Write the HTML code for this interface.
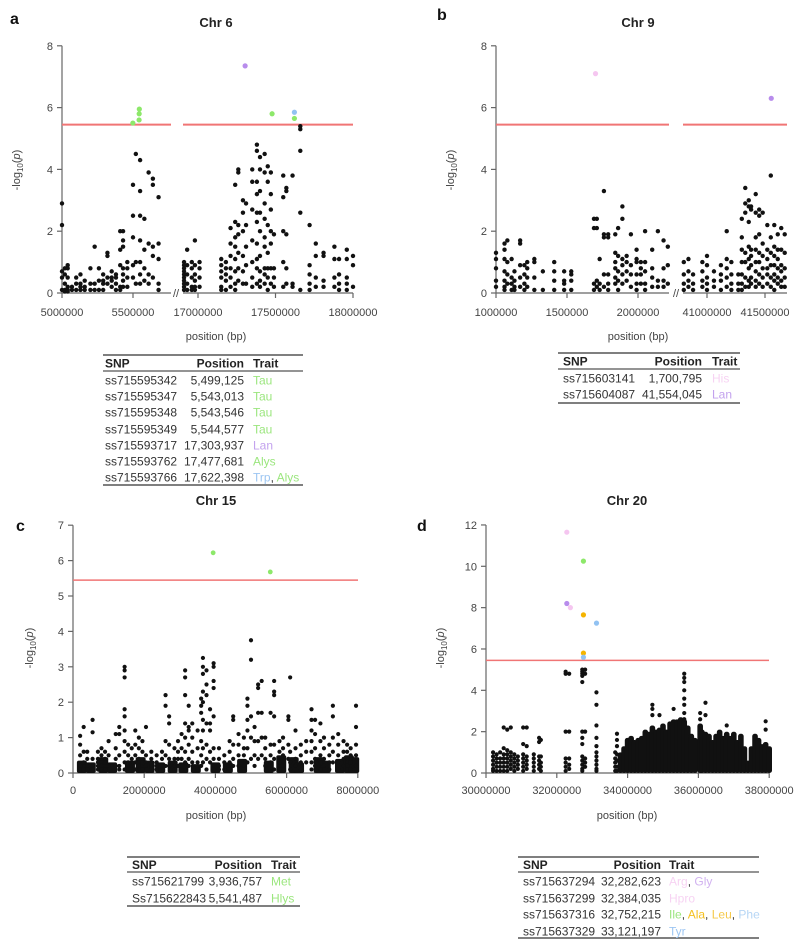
<!DOCTYPE html>
<html><head><meta charset="utf-8">
<style>
html,body{margin:0;padding:0;background:#fff;}
svg{display:block;font-family:"Liberation Sans",Arial,sans-serif;}
.tk{font-size:11px;fill:#444;}
.tt{font-size:13px;font-weight:bold;fill:#222;}
.pl{font-size:16px;font-weight:bold;fill:#111;}
.tb{font-size:12px;fill:#333;}
.tbh{font-size:12px;fill:#222;font-weight:bold;}
</style></head>
<body>
<svg id="fig" width="798" height="943" viewBox="0 0 798 943"></svg>
<script>
const aSeg1Cols = ["5.00:2.9 2.2 0.7 0.5 0.1","5.02:0.8 0.6 0.3 0.1 0.05","5.04:0.9 0.8 0.5 0.2 0.1 0.05","5.07:0.2 0.1","5.10:0.5 0.3 0.1","5.13:0.6 0.3 0.2 0.1","5.16:0.4 0.2 0.1","5.20:0.8 0.3 0.1","5.23:1.5 0.3 0.1","5.26:0.8 0.4 0.1","5.29:0.6 0.4 0.3 0.1","5.32:1.3 1.2 0.5 0.3","5.35:0.7 0.5 0.4 0.2","5.38:0.6 0.5 0.3 0.1","5.41:2.0 1.4 0.9 0.2 0.1","5.43:2.0 1.7 1.5 0.8 0.6 0.4 0.2","5.46:1.0 0.8 0.5 0.2","5.50:3.5 2.5 1.8 0.9 0.5","5.52:4.5 1.0 0.3","5.55:4.3 3.3 2.5 1.7 1.0 0.6 0.3","5.58:2.4 1.4 0.8 0.4","5.61:3.9 1.6 0.6 0.3","5.64:3.7 3.5 1.5 1.2 0.5","5.68:3.1 1.6 1.1 0.3 0.1"];
const aSeg2Cols = ["16.91:1.0 0.9 0.8 0.7 0.6 0.5 0.4 0.3 0.2 0.1","16.93:1.4 0.9 0.6 0.3 0.1","16.96:1.0 0.8 0.5 0.2 0.1","16.98:1.7 0.9 0.6 0.4 0.2 0.1","17.01:1.0 0.8 0.5 0.2","17.15:1.1 0.9 0.7 0.5 0.2 0.1","17.18:1.0 0.8 0.6 0.4 0.1","17.21:2.1 1.6 1.2 0.8 0.5 0.2","17.24:3.5 2.3 1.8 1.5 1.1 0.7 0.3 0.1","17.26:4.0 3.9 2.2 1.9 1.3 0.8 0.4","17.29:3.0 2.6 2.0 1.2 0.7 0.3","17.31:2.9 2.2 1.5 0.9 0.3","17.35:4.0 3.6 2.7 1.7 1.0 0.5 0.2","17.38:4.8 4.6 3.6 3.2 2.6 2.3 1.6 1.1 0.8 0.3","17.40:4.4 4.0 3.3 2.6 2.0 1.2 0.7 0.4 0.2","17.43:4.5 3.9 2.9 2.4 1.8 1.5 0.8 0.6 0.3","17.45:4.1 3.6 2.2 1.3 0.8 0.5 0.1","17.47:3.9 3.2 2.7 2.0 1.6 0.8 0.3","17.49:1.9 0.8 0.5 0.2","17.55:3.8 3.1 2.0 1.0 0.2","17.57:3.4 3.3 1.9 0.8 0.3","17.61:3.8 0.3 0.2","17.66:5.4 5.3 4.6 2.6 0.1","17.72:2.2 0.9 0.6 0.3 0.1","17.76:1.6 1.2 0.5 0.2","17.81:1.3 1.2 0.4 0.2","17.88:1.5 1.1 0.5 0.2","17.91:1.1 0.6 0.3 0.1","17.96:1.4 1.1 0.5 0.3 0.1","18.00:1.2 0.9 0.2"];
const aSigPos = [5.499, 5.543, 5.5435, 5.5446, 17.304, 17.478, 17.622, 17.622];
const aSigVal = [5.5, 5.6, 5.8, 5.95, 7.35, 5.8, 5.85, 5.65];
const aSigCol = ["#8de86a","#8de86a","#8de86a","#8de86a","#b88cec","#8de86a","#92c2f2","#8de86a"];

const bSeg1Cols = ["1.00:1.3 1.1 0.8 0.4 0.2","1.06:1.6 1.4 1.1 0.7 0.4 0.2 0.1","1.08:1.7 1.0 0.6 0.3","1.11:1.1 0.5 0.3 0.1","1.13:0.7 0.4 0.2 0.1","1.17:1.7 1.6 0.9 0.5 0.2","1.20:0.9 0.6 0.3 0.1","1.22:1.0 0.8 0.5 0.2","1.27:1.1 1.0 0.5 0.1","1.33:0.7 0.1","1.41:1.0 0.7 0.4 0.1","1.48:0.7 0.4 0.3 0.1","1.53:0.7 0.6 0.4 0.1","1.69:2.4 2.1 0.3 0.1","1.71:2.4 2.1 0.4 0.2","1.73:1.1 0.3 0.1","1.76:3.3 1.9 1.8 0.6 0.2","1.79:1.9 1.8 0.6 0.3 0.1","1.84:1.9 1.3 1.0 0.8 0.5 0.3","1.86:2.1 1.2 0.7 0.4 0.1","1.89:2.8 2.4 1.1 0.9 0.6 0.3","1.92:1.2 1.0 0.7 0.4","1.95:1.9 0.9 0.6 0.2","1.99:1.4 1.1 1.0 0.6 0.3 0.1","2.02:1.0 0.8 0.6 0.3","2.05:2.0 1.0 0.7 0.3 0.1","2.10:1.4 0.8 0.5 0.2","2.14:2.0 0.4 0.2","2.18:1.7 0.8 0.4 0.2","2.21:1.5 0.9 0.3"];
const bSeg2Cols = ["40.80:1.0 0.6 0.3 0.1","40.84:1.1 0.7 0.4 0.2","40.88:0.6 0.3 0.1","40.96:1.0 0.7 0.4 0.2","41.00:1.2 0.9 0.5 0.3 0.1","41.06:0.7 0.4 0.2","41.12:0.9 0.6 0.4 0.1","41.17:2.0 1.1 0.8 0.5 0.2","41.21:1.0 0.6 0.3 0.1","41.27:0.6 0.3 0.1","41.30:2.4 1.8 1.4 1.0 0.6 0.3 0.1","41.33:3.4 2.9 2.6 1.3 1.0 0.5 0.2","41.36:3.0 2.8 2.3 1.5 1.1 0.8 0.4 0.2","41.38:2.8 2.7 1.4 1.2 0.9 0.5 0.3","41.42:3.2 2.6 1.8 1.4 1.0 0.7 0.4 0.2","41.45:2.7 2.5 1.9 1.3 1.0 0.6 0.3","41.48:2.6 1.6 1.2 0.8 0.5 0.2","41.52:2.2 1.4 1.1 0.8 0.6 0.3","41.55:3.8 1.8 1.3 0.9 0.5 0.2","41.58:2.2 1.5 1.2 0.9 0.6 0.4 0.1","41.61:1.9 1.4 1.1 0.8 0.5 0.3","41.64:2.1 1.4 0.9 0.7 0.4 0.2","41.67:1.9 1.3 0.8 0.5 0.2"];
const bSigPos = [1.7008, 41.554];
const bSigVal = [7.1, 6.3];
const bSigCol = ["#f5c6f0","#b88cec"];

const cCols = ["0.2:1.05 0.8 0.5 0.2 0.1","0.3:1.3 0.6 0.3 0.1","0.4:0.6 0.4 0.2 0.1","0.55:1.5 1.15 0.4 0.2","0.7:0.6 0.4 0.3 0.2 0.1","0.8:0.7 0.5 0.3 0.2 0.1","0.9:0.6 0.4 0.3 0.1","1.0:0.9 0.5 0.2","1.2:1.1 0.7 0.4 0.2","1.3:1.3 1.1 0.5 0.2 0.1","1.45:3.0 2.9 2.7 1.8 1.6 1.2 0.9 0.6 0.3 0.1","1.55:0.8 0.5 0.3 0.1","1.65:0.7 0.4 0.2","1.75:1.2 0.8 0.5 0.3 0.1","1.85:1.0 0.7 0.4 0.2","1.95:0.9 0.6 0.3 0.1","2.05:1.3 0.5 0.3 0.2","2.2:0.6 0.4 0.2 0.1","2.35:0.5 0.3 0.2 0.1","2.5:0.6 0.4 0.2","2.6:2.2 1.9 0.9 0.5 0.2","2.7:1.6 1.4 0.8 0.4 0.2","2.85:0.7 0.4 0.2 0.1","2.95:0.9 0.6 0.4 0.2","3.05:1.1 0.7 0.4 0.1","3.15:2.9 2.7 2.2 1.4 1.0 0.6 0.3","3.25:1.9 1.3 1.2 0.8 0.4 0.2","3.35:1.4 1.0 0.6 0.3","3.5:1.2 0.7 0.3 0.1","3.6:2.1 1.9 1.7 0.9 0.5 0.2","3.65:3.25 3.0 2.8 2.3 2.0 1.5 1.2 0.7 0.3","3.75:2.9 2.5 2.2 1.4 0.8 0.4 0.1","3.85:1.8 1.4 1.2 0.6 0.3","3.95:3.1 3.0 2.6 2.4 1.6 0.7 0.4 0.1","4.1:0.7 0.4 0.2 0.1","4.25:0.5 0.3 0.1","4.4:0.9 0.6 0.3 0.1","4.5:1.6 1.5 0.8 0.4 0.2","4.65:1.1 0.8 0.5 0.2","4.8:1.0 0.7 0.5 0.2","4.9:2.1 1.9 1.5 1.2 0.7 0.3","5.0:3.75 3.2 1.6 1.0 0.4","5.1:1.3 0.9 0.5 0.2","5.2:2.5 2.4 1.7 0.9 0.4","5.3:2.6 1.7 1.0 0.5","5.4:1.0 0.7 0.4 0.2","5.55:1.7 0.8 0.5 0.3","5.65:2.6 2.3 2.2 1.6 0.8 0.4 0.1","5.8:0.9 0.6 0.3 0.1","5.9:1.0 0.7 0.5 0.2","6.05:1.6 1.5 0.8 0.4","6.1:2.7 0.6 0.3 0.1","6.25:1.2 0.7 0.4 0.2","6.4:0.8 0.5 0.3 0.1","6.55:0.9 0.6 0.3","6.7:1.8 1.5 1.2 0.9 0.6 0.3 0.1","6.8:1.5 1.1 0.7 0.4 0.2","6.95:1.4 0.9 0.5 0.3 0.1","7.05:1.0 0.7 0.4 0.2","7.2:0.8 0.5 0.3 0.1","7.3:1.9 1.6 1.0 0.6 0.3","7.45:1.1 0.8 0.5 0.3 0.1","7.6:0.9 0.6 0.4 0.2","7.7:0.8 0.6 0.4 0.3 0.2 0.1","7.8:0.7 0.5 0.4 0.3 0.1","7.95:1.9 1.3 0.8 0.5 0.2"];
const cLowBand = ["0.25:0.35","0.5:0.3","0.85:0.45","1.1:0.3","1.6:0.35","1.9:0.45","2.15:0.35","2.45:0.3","2.8:0.35","3.1:0.3","3.45:0.25","4.0:0.3","4.35:0.3","4.75:0.4","5.5:0.35","5.85:0.5","6.2:0.45","6.35:0.3","6.9:0.45","7.1:0.35","7.5:0.4","7.75:0.5","7.9:0.45"];
const cSigPos = [3.9368, 5.5415];
const cSigVal = [6.22, 5.68];
const cSigCol = ["#8de86a","#8de86a"];

const dCols = ["30.2:1.0 0.8 0.6 0.4 0.2 0.1","30.3:0.9 0.7 0.5 0.3 0.1","30.4:1.0 0.7 0.5 0.3 0.1","30.5:2.2 1.2 0.9 0.7 0.5 0.3 0.1","30.6:2.1 1.1 0.9 0.7 0.5 0.3 0.1","30.7:2.2 1.0 0.8 0.6 0.4 0.2","30.8:0.9 0.7 0.5 0.3 0.1","30.9:0.8 0.6 0.4 0.2","31.05:2.2 1.4 0.9 0.7 0.5 0.3 0.1","31.15:2.2 1.3 0.8 0.6 0.4 0.2","31.35:0.9 0.7 0.5 0.3 0.1","31.5:1.7 1.5 0.8 0.6 0.4 0.2","31.55:1.6 0.8 0.5 0.3 0.1","32.25:4.9 4.8 2.0 0.7 0.5 0.3 0.1","32.35:4.8 2.0 0.7 0.4 0.2","32.72:5.0 4.9 4.8 4.7 4.4 2.0 1.7 1.4 0.8 0.6 0.4 0.2 0.1","32.8:5.0 4.8 2.0 0.7 0.5 0.3","33.12:3.9 3.3 2.3 1.7 1.3 1.0 0.8 0.6 0.4 0.2 0.1","33.65:1.0 0.7 0.5 0.3 0.1","33.7:1.9 1.6 1.3 0.9 0.6 0.3 0.1","34.7:3.3 3.1 2.8","34.9:2.8","35.3:3.1","35.6:4.8 4.6 4.4 4.0 3.6 3.3 2.9 2.6","36.05:2.9 2.6","36.2:3.4 2.8","36.8:2.3","37.9:2.1 2.5"];
const dDenseTop = ["33.8:0.9","33.9:1.2","34.0:1.6","34.1:1.7","34.2:1.5","34.3:1.6","34.4:1.7","34.5:2.0","34.6:1.9","34.7:2.2","34.8:2.0","34.9:2.1","35.0:2.3","35.1:2.0","35.2:2.4","35.3:2.5","35.4:2.5","35.5:2.6","35.6:2.5","35.7:2.2","35.8:1.8","35.9:1.6","36.05:2.3","36.1:2.0","36.2:1.9","36.3:1.8","36.4:1.5","36.5:1.8","36.6:2.0","36.7:1.7","36.8:1.9","36.9:1.7","37.0:1.9","37.1:1.5","37.2:1.8","37.3:1.2","37.4:0.5","37.5:1.2","37.6:1.8","37.7:1.6","37.8:1.3","37.9:1.4","38.0:1.2"];
const dSigPos = [32.2826, 32.2826, 32.384, 32.7522, 32.7522, 32.7522, 32.7522, 33.1212];
const dSigVal = [11.65, 8.2, 8.0, 10.25, 7.65, 5.8, 5.6, 7.25];
const dSigCol = ["#f5c6f0","#b88cec","#f5c6f0","#8de86a","#f5b400","#f5b400","#92c2f2","#92c2f2"];

const NS = "http://www.w3.org/2000/svg";
const svg = document.getElementById("fig");
function mk(tag, attrs, parent){
  const el = document.createElementNS(NS, tag);
  for (const k in attrs) el.setAttribute(k, attrs[k]);
  (parent || svg).appendChild(el);
  return el;
}
function txt(x, y, s, cls, anchor, parent, fill){
  const t = mk("text", {x:x, y:y, class:cls, "text-anchor":anchor||"start"}, parent);
  if (fill) t.setAttribute("fill", fill);
  t.textContent = s;
  return t;
}
function parseCols(arr){
  return arr.map(s => { const p = s.split(":"); return {x:parseFloat(p[0]), ys:p[1].split(" ").map(Number)}; });
}
function drawCols(g, cols, sx, sy, r, name){
  parseCols(cols).forEach(c => c.ys.forEach(v => {
    const d = mk("circle", {cx:sx(c.x), cy:sy(v), r:r, fill:"#111"}, g);
    
    
  }));
}
function drawSig(g, pos, val, col, sx, sy, r){
  pos.forEach((p,i) => {
    const d = mk("circle", {cx:sx(p), cy:sy(val[i]), r:r, fill:col[i]}, g);
    
    
  });
}
function yAxis(g, x, sy, ticks, y0v){
  mk("line", {x1:x, x2:x, y1:sy(ticks[ticks.length-1]), y2:sy(y0v), stroke:"#666", "stroke-width":1.2}, g);
  ticks.forEach(t => {
    mk("line", {x1:x-5, x2:x, y1:sy(t), y2:sy(t), stroke:"#666", "stroke-width":1.2}, g);
    txt(x-9, sy(t)+4, String(t), "tk", "end", g);
  });
}
function yTitle(g, x, y){
  const t = mk("text", {x:0, y:0, class:"tk", "text-anchor":"middle", transform:`translate(${x},${y}) rotate(-90)`}, g);
  
  
  t.innerHTML = '-log<tspan font-size="8" dy="3">10</tspan><tspan dy="-3">(</tspan><tspan font-style="italic">p</tspan>)';
}
function xAxisSeg(g, x1, x2, y){ mk("line", {x1:x1, x2:x2, y1:y, y2:y, stroke:"#666", "stroke-width":1.2}, g); }
function xTick(g, x, y, label, ly){
  mk("line", {x1:x, x2:x, y1:y, y2:y+5, stroke:"#666", "stroke-width":1.2}, g);
  txt(x, ly, label, "tk", "middle", g);
}
function thresh(g, x1, x2, y, w){
  const l = mk("line", {x1:x1, x2:x2, y1:y, y2:y, stroke:"#f07575", "stroke-width":w}, g);
  
  
}
function table(g, x1, x2, lines, header, rows, cx){
  mk("line", {x1:x1, x2:x2, y1:lines[0], y2:lines[0], stroke:"#555", "stroke-width":1.5}, g);
  mk("line", {x1:x1, x2:x2, y1:lines[1], y2:lines[1], stroke:"#555", "stroke-width":1.2}, g);
  mk("line", {x1:x1, x2:x2, y1:lines[2], y2:lines[2], stroke:"#555", "stroke-width":1.5}, g);
  const hy = (lines[0]+lines[1])/2 + 4.5;
  txt(cx[0], hy, "SNP", "tbh", "start", g);
  txt(cx[1], hy, "Position", "tbh", "end", g);
  txt(cx[2], hy, "Trait", "tbh", "start", g);
  rows.forEach(r => {
    const y = r.y + 4.5;
    const rr = txt(cx[0], y, r.snp, "tb", "start", g);
    
    
    txt(cx[1], y, r.pos, "tb", "end", g);
    const t = mk("text", {x:cx[2], y:y, class:"tb"}, g);
    r.traits.forEach((tr,i) => {
      if (i>0) { const c = mk("tspan", {fill:"#333"}, t); c.textContent = ", "; }
      const s = mk("tspan", {fill:tr[1]}, t); s.textContent = tr[0];
    });
  });
}

(function(){
  const g = mk("g", {});  
  const sy = v => 293 - v*30.9;
  const sx1 = v => 62 + (v-5.0)*142;
  const sx2 = v => 198 + (v-17.0)*155;
  const sxAny = v => v < 10 ? sx1(v) : sx2(v);
  txt(10, 24, "a", "pl", "start", g);
  const t = txt(216, 27, "Chr 6", "tt", "middle", g);  
  yAxis(g, 62, sy, [0,2,4,6,8], 0);
  yTitle(g, 20, 170);
  xAxisSeg(g, 62, 171, 293); xAxisSeg(g, 183, 353, 293);
  txt(176, 297, "//", "tk", "middle", g);
  [[5.0,"5000000"],[5.5,"5500000"]].forEach(k => xTick(g, sx1(k[0]), 293, k[1], 316));
  [[17.0,"17000000"],[17.5,"17500000"],[18.0,"18000000"]].forEach(k => xTick(g, sx2(k[0]), 293, k[1], 316));
  txt(216, 340, "position (bp)", "tk", "middle", g);
  thresh(g, 62, 171, sy(5.45), 2); thresh(g, 183, 353, sy(5.45), 2);
  drawCols(g, aSeg1Cols, sx1, sy, 2.2, "snp-point");
  drawCols(g, aSeg2Cols, sx2, sy, 2.2, "snp-point");
  drawSig(g, aSigPos, aSigVal, aSigCol, sxAny, sy, 2.6);
  const G="#9be67e", P="#c3a2ee", B="#9dc6f2";
  table(g, 103, 303, [355,371,485], null, [
    {y:380, snp:"ss715595342", pos:"5,499,125", traits:[["Tau",G]]},
    {y:396, snp:"ss715595347", pos:"5,543,013", traits:[["Tau",G]]},
    {y:412, snp:"ss715595348", pos:"5,543,546", traits:[["Tau",G]]},
    {y:429, snp:"ss715595349", pos:"5,544,577", traits:[["Tau",G]]},
    {y:445, snp:"ss715593717", pos:"17,303,937", traits:[["Lan",P]]},
    {y:461, snp:"ss715593762", pos:"17,477,681", traits:[["Alys",G]]},
    {y:477, snp:"ss715593766", pos:"17,622,398", traits:[["Trp",B],["Alys",G]]}
  ], [105,244,253]);
})();

(function(){
  const g = mk("g", {});  
  const sy = v => 293 - v*30.9;
  const sx1 = v => 496 + (v-1.0)*142;
  const sx2 = v => 707 + (v-41.0)*116;
  const sxAny = v => v < 10 ? sx1(v) : sx2(v);
  txt(437, 20, "b", "pl", "start", g);
  const t = txt(638, 27, "Chr 9", "tt", "middle", g);  
  yAxis(g, 496, sy, [0,2,4,6,8], 0);
  yTitle(g, 454, 170);
  xAxisSeg(g, 496, 669, 293); xAxisSeg(g, 683, 787, 293);
  txt(676, 297, "//", "tk", "middle", g);
  [[1.0,"1000000"],[1.5,"1500000"],[2.0,"2000000"]].forEach(k => xTick(g, sx1(k[0]), 293, k[1], 316));
  [[41.0,"41000000"],[41.5,"41500000"]].forEach(k => xTick(g, sx2(k[0]), 293, k[1], 316));
  txt(638, 340, "position (bp)", "tk", "middle", g);
  thresh(g, 496, 669, sy(5.45), 2); thresh(g, 683, 787, sy(5.45), 2);
  drawCols(g, bSeg1Cols, sx1, sy, 2.2, "snp-point");
  drawCols(g, bSeg2Cols, sx2, sy, 2.2, "snp-point");
  drawSig(g, bSigPos, bSigVal, bSigCol, sxAny, sy, 2.6);
  table(g, 558, 740, [353,369,403], null, [
    {y:378, snp:"ss715603141", pos:"1,700,795", traits:[["His","#f7d3f3"]]},
    {y:394, snp:"ss715604087", pos:"41,554,045", traits:[["Lan","#c3a2ee"]]}
  ], [563,702,712]);
})();

(function(){
  const g = mk("g", {});  
  const sy = v => 773 - v*35.4;
  const sx = v => 73 + v*35.6;
  txt(16, 531, "c", "pl", "start", g);
  const t = txt(216, 505, "Chr 15", "tt", "middle", g);  
  yAxis(g, 73, sy, [0,1,2,3,4,5,6,7], 0);
  yTitle(g, 33, 648);
  xAxisSeg(g, 73, 358, 773);
  [[0,"0"],[2,"2000000"],[4,"4000000"],[6,"6000000"],[8,"8000000"]].forEach(k => xTick(g, sx(k[0]), 773, k[1], 794));
  txt(216, 819, "position (bp)", "tk", "middle", g);
  thresh(g, 73, 358, sy(5.45), 1.5);
  parseCols(cLowBand).forEach(c => {
    const b = mk("rect", {x:sx(c.x)-5, y:sy(c.ys[0]), width:10, height:sy(0)-sy(c.ys[0]), fill:"#111", rx:2}, g);
    
    
  });
  drawCols(g, cCols, sx, sy, 2.1, "snp-point");
  drawSig(g, cSigPos, cSigVal, cSigCol, sx, sy, 2.4);
  const G="#9be67e";
  table(g, 127, 300, [857,872,906], null, [
    {y:881, snp:"ss715621799", pos:"3,936,757", traits:[["Met",G]]},
    {y:898, snp:"Ss715622843", pos:"5,541,487", traits:[["Hlys",G]]}
  ], [132,262,271]);
})();

(function(){
  const g = mk("g", {});  
  const sy = v => 773 - v*20.67;
  const sx = v => 486 + (v-30)*35.4;
  txt(417, 531, "d", "pl", "start", g);
  const t = txt(627, 505, "Chr 20", "tt", "middle", g);  
  yAxis(g, 486, sy, [0,2,4,6,8,10,12], 0);
  yTitle(g, 444, 648);
  xAxisSeg(g, 486, 769, 773);
  [[30,"30000000"],[32,"32000000"],[34,"34000000"],[36,"36000000"],[38,"38000000"]].forEach(k => xTick(g, sx(k[0]), 773, k[1], 794));
  txt(627, 819, "position (bp)", "tk", "middle", g);
  thresh(g, 486, 769, sy(5.45), 1.5);
  parseCols(dDenseTop).forEach(c => {
    const b = mk("rect", {x:sx(c.x)-2.8, y:sy(c.ys[0])-2, width:5.6, height:sy(0)-sy(c.ys[0])+2, fill:"#111", rx:2.5}, g);
    
    
  });
  drawCols(g, dCols, sx, sy, 2.1, "snp-point");
  drawSig(g, dSigPos, dSigVal, dSigCol, sx, sy, 2.6);
  table(g, 518, 759, [857,872,938], null, [
    {y:881, snp:"ss715637294", pos:"32,282,623", traits:[["Arg","#f7d3f3"],["Gly","#d2b3f0"]]},
    {y:898, snp:"ss715637299", pos:"32,384,035", traits:[["Hpro","#f7d3f3"]]},
    {y:914, snp:"ss715637316", pos:"32,752,215", traits:[["Ile","#9be67e"],["Ala","#f5c020"],["Leu","#f5c94a"],["Phe","#b6d6f5"]]},
    {y:931, snp:"ss715637329", pos:"33,121,197", traits:[["Tyr","#9dc6f2"]]}
  ], [523,661,669]);
})();
</script>
</body></html>
